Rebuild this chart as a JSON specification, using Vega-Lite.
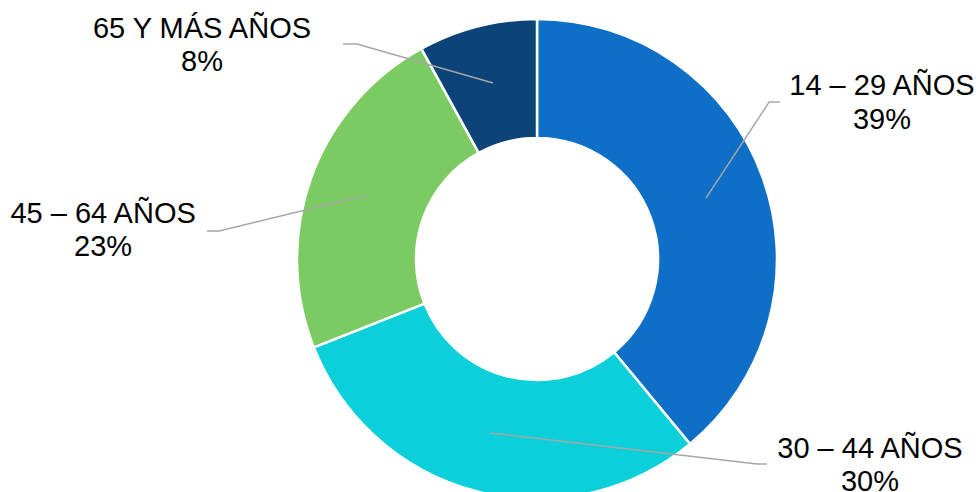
{
  "$schema": "https://vega.github.io/schema/vega-lite/v6.json",
  "autosize": "none",
  "width": 882,
  "height": 466,
  "padding": {"left": 96, "top": 26, "right": 0, "bottom": 0},
  "background": "white",
  "config": {"view": {"stroke": null}},
  "datasets": {
    "shares": [
      {"grupo": "14 – 29 AÑOS", "share": 0.39, "ord": 1},
      {"grupo": "30 – 44 AÑOS", "share": 0.30, "ord": 2},
      {"grupo": "45 – 64 AÑOS", "share": 0.23, "ord": 3},
      {"grupo": "65 Y MÁS AÑOS", "share": 0.08, "ord": 4}
    ],
    "leaders": [
      {"grupo": "14 – 29 AÑOS", "p": 1, "lx": 1.0125, "ly": 0.654},
      {"grupo": "14 – 29 AÑOS", "p": 2, "lx": 0.967, "ly": 0.654},
      {"grupo": "14 – 29 AÑOS", "p": 3, "lx": 0.704, "ly": 0.254},
      {"grupo": "30 – 44 AÑOS", "p": 1, "lx": 0.958, "ly": -0.854},
      {"grupo": "30 – 44 AÑOS", "p": 2, "lx": 0.917, "ly": -0.854},
      {"grupo": "30 – 44 AÑOS", "p": 3, "lx": -0.196, "ly": -0.725},
      {"grupo": "45 – 64 AÑOS", "p": 1, "lx": -1.375, "ly": 0.117},
      {"grupo": "45 – 64 AÑOS", "p": 2, "lx": -1.325, "ly": 0.117},
      {"grupo": "45 – 64 AÑOS", "p": 3, "lx": -0.708, "ly": 0.267},
      {"grupo": "65 Y MÁS AÑOS", "p": 1, "lx": -0.808, "ly": 0.896},
      {"grupo": "65 Y MÁS AÑOS", "p": 2, "lx": -0.750, "ly": 0.896},
      {"grupo": "65 Y MÁS AÑOS", "p": 3, "lx": -0.183, "ly": 0.733}
    ],
    "labels": [
      {"grupo": "14 – 29 AÑOS", "share": 0.39, "tx": 1.4375, "ty": 0.683},
      {"grupo": "30 – 44 AÑOS", "share": 0.30, "tx": 1.3875, "ty": -0.829},
      {"grupo": "45 – 64 AÑOS", "share": 0.23, "tx": -1.808, "ty": 0.150},
      {"grupo": "65 Y MÁS AÑOS", "share": 0.08, "tx": -1.396, "ty": 0.921}
    ]
  },
  "layer": [
    {
      "data": {"name": "shares"},
      "mark": {"type": "arc", "radius": 240, "radius2": 121, "stroke": "white", "strokeWidth": 2.5},
      "encoding": {
        "theta": {"field": "share", "type": "quantitative", "stack": true},
        "order": {"field": "ord", "type": "quantitative"},
        "color": {
          "field": "grupo",
          "type": "nominal",
          "legend": null,
          "scale": {
            "domain": ["14 – 29 AÑOS", "30 – 44 AÑOS", "45 – 64 AÑOS", "65 Y MÁS AÑOS"],
            "range": ["#0F6FC6", "#0BD0D9", "#7CCA62", "#0C4378"]
          }
        }
      }
    },
    {
      "data": {"name": "leaders"},
      "mark": {"type": "line", "color": "#A6A6A6", "strokeWidth": 1.5},
      "encoding": {
        "x": {"field": "lx", "type": "quantitative", "axis": null, "scale": {"domain": [-1.8375, 1.8375], "nice": false, "zero": false}},
        "y": {"field": "ly", "type": "quantitative", "axis": null, "scale": {"domain": [-0.9708, 0.9708], "nice": false, "zero": false}},
        "detail": {"field": "grupo"},
        "order": {"field": "p", "type": "quantitative"}
      }
    },
    {
      "data": {"name": "labels"},
      "mark": {"type": "text", "font": "Liberation Sans", "fontSize": 29, "color": "#000000", "align": "center", "baseline": "alphabetic"},
      "encoding": {
        "x": {"field": "tx", "type": "quantitative", "axis": null, "scale": {"domain": [-1.8375, 1.8375], "nice": false, "zero": false}},
        "y": {"field": "ty", "type": "quantitative", "axis": null, "scale": {"domain": [-0.9708, 0.9708], "nice": false, "zero": false}},
        "text": {"field": "grupo"}
      }
    },
    {
      "data": {"name": "labels"},
      "mark": {"type": "text", "font": "Liberation Sans", "fontSize": 29, "color": "#000000", "align": "center", "baseline": "alphabetic", "dy": 33.5},
      "encoding": {
        "x": {"field": "tx", "type": "quantitative", "axis": null, "scale": {"domain": [-1.8375, 1.8375], "nice": false, "zero": false}},
        "y": {"field": "ty", "type": "quantitative", "axis": null, "scale": {"domain": [-0.9708, 0.9708], "nice": false, "zero": false}},
        "text": {"field": "share", "type": "quantitative", "format": ".0%"}
      }
    }
  ]
}
